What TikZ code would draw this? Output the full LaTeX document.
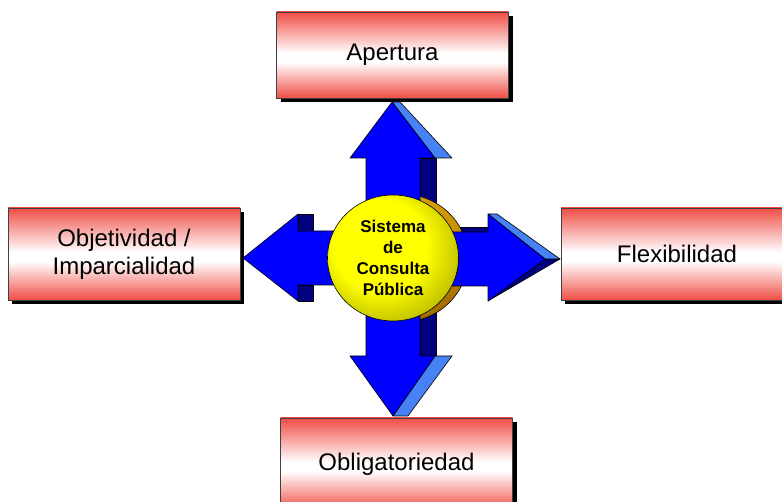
\documentclass[tikz,border=0pt]{standalone}
\usepackage{fontspec}
\setmainfont{Liberation Sans}
\usetikzlibrary{shapes.geometric,shadows}

\definecolor{boxred}{RGB}{240,78,70}
\definecolor{arrowblue}{RGB}{0,0,255}
\definecolor{arrownavy}{RGB}{0,0,128}
\definecolor{arrowlight}{RGB}{70,130,245}
\definecolor{goldtop}{RGB}{215,160,10}
\definecolor{goldbot}{RGB}{160,105,0}

\pgfdeclareverticalshading{redband}{100bp}{color(0bp)=(boxred); color(25bp)=(boxred); color(46bp)=(white); color(51bp)=(white); color(75bp)=(boxred); color(100bp)=(boxred)}
\pgfdeclareradialshading{yball}{\pgfpoint{-8bp}{8bp}}{color(0bp)=(yellow); color(18bp)=(yellow); color(30bp)=(yellow!75!black); color(38bp)=(yellow!45!black); color(50bp)=(yellow!45!black)}

\begin{document}
\begin{tikzpicture}[x=1pt, y=-1pt,
    rbox/.style={draw=black!75, line width=0.6pt, shading=redband, minimum width=232pt, minimum height=92pt, inner sep=0pt, align=center, font=\fontsize{24}{28}\selectfont, general shadow={fill=black, shadow xshift=4pt, shadow yshift=-4pt}},
    frontface/.style={fill=arrowblue, draw=black, line width=0.6pt, line join=round},
    darkface/.style={fill=arrownavy, draw=black, line width=0.6pt, line join=round},
    lightface/.style={fill=arrowlight, draw=black, line width=0.6pt, line join=round},
    coredisc/.style={ellipse, draw=black, line width=0.6pt, shading=yball, minimum width=131pt, minimum height=126pt, inner sep=0pt, align=center, font=\bfseries\fontsize{17}{21}\selectfont}]
    \path[use as bounding box] (0,0) rectangle (782,502);
    \clip (0,0) rectangle (782,502);

    % the four boxes
    \node [rbox, minimum height=86pt] (apertura) at (392.5,55) {Apertura};
    \node [rbox] (objetividad) at (124,254) {Objetividad /\\Imparcialidad};
    \node [rbox] (flexibilidad) at (677,254) {Flexibilidad};
    \node [rbox] (obligatoriedad) at (396.5,464) {Obligatoriedad};

    % side faces of the arrows
    \draw [darkface] (420,158) rectangle (436,356);
    \draw [darkface] (298,214) rectangle (313,231);
    \draw [darkface] (298,285) rectangle (313,301);
    \draw [darkface] (440,227) rectangle (488,232);
    \draw [darkface] (488,301) -- (545,259) -- (560,259) -- cycle;
    \draw [lightface] (392,102) -- (400,102) -- (452,158) -- (435,158) -- cycle;
    \draw [lightface] (435,356) -- (452,356) -- (408,416) -- (393,416) -- cycle;
    \draw [lightface] (488,214) -- (497,214) -- (560,259) -- (545,259) -- cycle;

    % rim of the disc
    \draw [line width=0.6pt, top color=goldtop, bottom color=goldbot] (402,258) ellipse [x radius=66, y radius=64];

    % front faces
    \draw [frontface] (392,102) -- (435,158) -- (420,158) -- (420,356) -- (435,356) -- (393,416) -- (350,356) -- (366,356) -- (366,158) -- (350,158) -- cycle;
    \draw [frontface] (243,258) -- (298,214) -- (298,231) -- (393,231) -- (393,285) -- (298,285) -- (298,301) -- cycle;
    \draw [frontface] (393,232) -- (488,232) -- (488,214) -- (545,259) -- (488,301) -- (488,286) -- (393,286) -- cycle;

    % centre
    \node [coredisc] (core) at (393,258) {Sistema\\de\\Consulta\\Pública};
\end{tikzpicture}
\end{document}
